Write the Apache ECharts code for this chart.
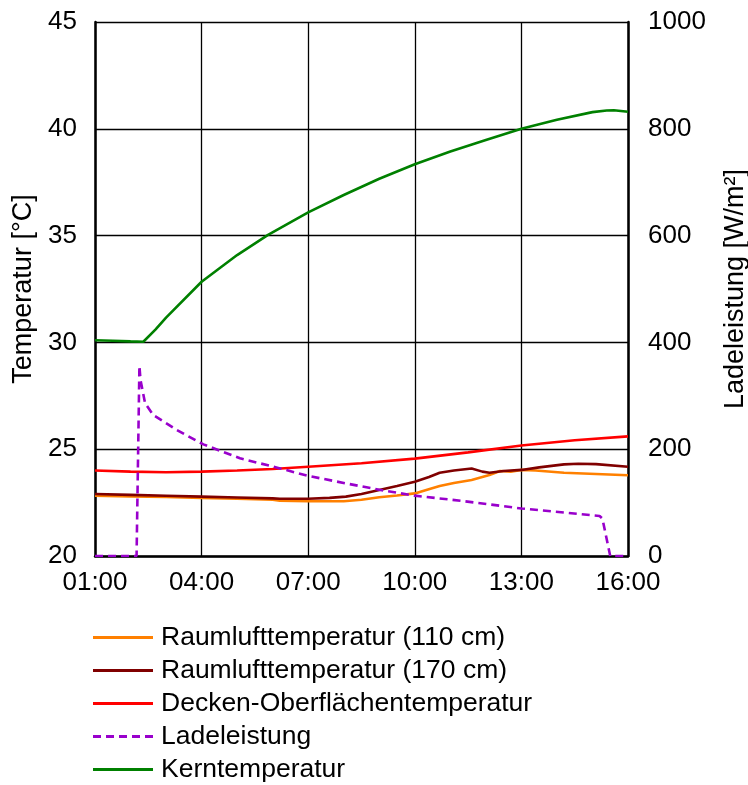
<!DOCTYPE html>
<html>
<head>
<meta charset="utf-8">
<script src="https://cdn.jsdelivr.net/npm/echarts@6/dist/echarts.min.js"></script>
<style>
html,body{margin:0;padding:0;background:#fff;overflow:hidden;width:748px;height:785px;}
#chart{width:748px;height:785px;overflow:hidden;}
</style>
</head>
<body>
<div id="chart"></div>
<script>
// time = hours since 01:00
const xTickLabels = ['01:00','04:00','07:00','10:00','13:00','16:00'];
const seriesNames = ['Raumlufttemperatur (110 cm)','Raumlufttemperatur (170 cm)','Decken-Oberflächentemperatur','Ladeleistung','Kerntemperatur'];

const t110 = [0, 1, 2, 3, 4, 5, 5.2, 6, 7, 7.5, 8, 8.5, 9, 9.3, 9.7, 10.1, 10.6, 11.1, 11.4, 11.7, 12.0, 12.4, 13.2, 14.1, 15];
const v110 = [22.82, 22.79, 22.76, 22.72, 22.68, 22.63, 22.59, 22.57, 22.56, 22.63, 22.75, 22.83, 22.93, 23.08, 23.28, 23.42, 23.56, 23.79, 23.98, 23.95, 24.03, 24.0, 23.9, 23.84, 23.78];

const t170 = [0, 1, 2, 3, 4, 5, 5.2, 6, 6.6, 7.06, 7.5, 8, 8.5, 9, 9.4, 9.7, 10.1, 10.6, 10.9, 11.1, 11.5, 12, 12.5, 13.2, 13.6, 14.1, 15];
const v170 = [22.9, 22.86, 22.82, 22.78, 22.74, 22.7, 22.68, 22.68, 22.72, 22.78, 22.9, 23.09, 23.28, 23.48, 23.7, 23.9, 24.0, 24.1, 23.95, 23.9, 23.98, 24.03, 24.15, 24.29, 24.32, 24.3, 24.18];

const tDecke = [0, 1, 2, 3, 4, 5, 6, 7.5, 9, 10.5, 12, 13.5, 15];
const vDecke = [24.0, 23.95, 23.92, 23.95, 24.0, 24.07, 24.18, 24.34, 24.56, 24.85, 25.17, 25.42, 25.6];

const tLade = [0, 1.17, 1.25, 1.28, 1.41, 1.64, 2.3, 3.05, 4.08, 5.21, 6, 7.06, 8, 9, 10.35, 12, 14.2, 14.28, 14.5, 15];
const vLade = [0, 0, 356, 330, 286, 264, 236, 209, 183, 164, 150, 136, 124, 113, 103, 89, 75, 70, 0, 0];

const tKern = [0, 0.5, 1.0, 1.36, 1.7, 2.0, 3.0, 4.0, 4.87, 6.0, 7.0, 8.0, 9.0, 10.0, 11.0, 12.0, 13.0, 14.0, 14.4, 14.6, 15];
const vKern = [30.1, 30.08, 30.05, 30.03, 30.6, 31.16, 32.84, 34.09, 35.03, 36.09, 36.9, 37.66, 38.34, 38.94, 39.48, 40.0, 40.42, 40.78, 40.86, 40.87, 40.8];

const zip = (a, b) => a.map((x, i) => [x, b[i]]);
const FONT = 'Liberation Sans, Arial, sans-serif';
const SOLID_ICON = 'path://M0,0h60v3h-60z';
const DASH_ICON = 'path://M0,0h8v3h-8z M13,0h8v3h-8z M26,0h8v3h-8z M39,0h8v3h-8z M52,0h8v3h-8z';

const chart = echarts.init(document.getElementById('chart'), null, {renderer: 'canvas', width: 748, height: 785});
const lineSeries = (name, data, color, yIndex, dash) => ({
  name, type: 'line', data, yAxisIndex: yIndex, showSymbol: false, symbol: 'none',
  smooth: false, animation: false,
  lineStyle: {color, width: 2.6, type: dash || 'solid'},
  itemStyle: {color}
});

chart.setOption({
  animation: false,
  backgroundColor: '#ffffff',
  grid: {left: 95, right: 120, top: 22, bottom: 229, containLabel: false, outerBoundsMode: 'none'},
  xAxis: {
    type: 'value', min: 0, max: 15, interval: 3,
    axisLine: {show: true, lineStyle: {color: '#000', width: 2.5}},
    axisTick: {show: false},
    splitLine: {show: true, lineStyle: {color: '#000', width: 1.3}},
    axisLabel: {
      color: '#000', fontSize: 26, fontFamily: FONT, margin: 14,
      formatter: v => xTickLabels[Math.round(v / 3)]
    }
  },
  yAxis: [
    {
      type: 'value', min: 20, max: 45, interval: 5, position: 'left',
      name: 'Temperatur [°C]', nameLocation: 'middle', nameGap: 53,
      nameTextStyle: {color: '#000', fontSize: 27, fontFamily: FONT},
      axisLine: {show: true, lineStyle: {color: '#000', width: 2.5}},
      axisTick: {show: false},
      splitLine: {show: true, lineStyle: {color: '#000', width: 1.3}},
      axisLabel: {color: '#000', fontSize: 26, fontFamily: FONT, margin: 18}
    },
    {
      type: 'value', min: 0, max: 1000, interval: 200, position: 'right',
      name: 'Ladeleistung [W/m²]', nameLocation: 'middle', nameGap: 94, nameRotate: 90,
      nameTextStyle: {color: '#000', fontSize: 27, fontFamily: FONT},
      axisLine: {show: true, lineStyle: {color: '#000', width: 2.5}},
      axisTick: {show: false},
      splitLine: {show: false},
      axisLabel: {color: '#000', fontSize: 26, fontFamily: FONT, margin: 20, formatter: v => String(v)}
    }
  ],
  legend: {
    orient: 'vertical', left: 93, top: 624, padding: 0,
    itemWidth: 60, itemHeight: 3, itemGap: 6,
    data: seriesNames.map((n, i) => ({name: n, icon: i === 3 ? DASH_ICON : SOLID_ICON})),
    textStyle: {color: '#000', fontSize: 26.5, fontFamily: FONT, lineHeight: 26, padding: [0, 0, 0, 3]}
  },
  series: [
    lineSeries(seriesNames[0], zip(t110, v110), '#FF8000', 0),
    lineSeries(seriesNames[1], zip(t170, v170), '#800000', 0),
    lineSeries(seriesNames[2], zip(tDecke, vDecke), '#FF0000', 0),
    lineSeries(seriesNames[3], zip(tLade, vLade), '#9900CC', 1, [8, 5]),
    lineSeries(seriesNames[4], zip(tKern, vKern), '#008000', 0)
  ]
});
</script>
</body>
</html>
